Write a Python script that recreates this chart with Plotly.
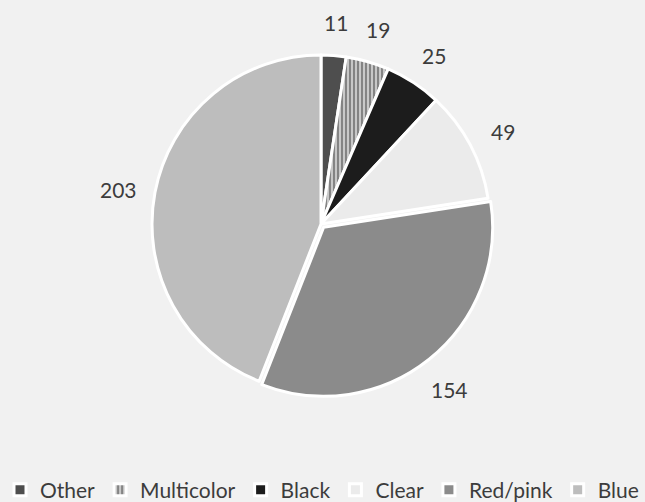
import math
import plotly.graph_objects as go

# ---- data ----
labels = ["Other", "Multicolor", "Black", "Clear", "Red/pink", "Blue"]
values = [11, 19, 25, 49, 154, 203]

# ---- style ----
colors = ["#4e4e4e", "#c4c4c4", "#1c1c1c", "#ebebeb", "#8b8b8b", "#bdbdbd"]
patterns = ["", "|", "", "", "", ""]
pulls = [0, 0, 0, 0, 0.025, 0]
BG = "#f1f1f1"
FONT = "Lato, 'Open Sans', 'Liberation Sans', sans-serif"
TXT = "#3c3c3c"

W, H = 645, 502
CX, CY, R = 321, 224, 169
LABEL_R = 1.22
LABEL_DY = 4
HALF = R * (1 + max(pulls))

fig = go.Figure()
fig.add_trace(go.Pie(
    labels=labels,
    values=values,
    sort=False,
    direction="clockwise",
    rotation=0,
    pull=pulls,
    textinfo="none",
    hoverinfo="label+value",
    marker=dict(
        colors=colors,
        line=dict(color="white", width=3),
        pattern=dict(shape=patterns, fgcolor="#7c7c7c", bgcolor="#c8c8c8",
                     size=4, solidity=0.45),
    ),
    domain=dict(x=[(CX - HALF) / W, (CX + HALF) / W],
                y=[1 - (CY + HALF) / H, 1 - (CY - HALF) / H]),
))

# value labels placed outside each slice at its mid angle (derived from data)
total = sum(values)
cum = 0
annotations = []
for v in values:
    mid = (cum + v / 2) / total * 2 * math.pi
    cum += v
    px = CX + LABEL_R * R * math.sin(mid)
    py = CY + LABEL_DY - LABEL_R * R * math.cos(mid)
    annotations.append(dict(
        x=px / W, y=1 - py / H, xref="paper", yref="paper",
        text=str(v), showarrow=False, xanchor="center", yanchor="middle",
        font=dict(family=FONT, size=21, color=TXT),
    ))

fig.update_layout(
    width=W, height=H,
    margin=dict(l=0, r=0, t=0, b=0, autoexpand=False),
    paper_bgcolor=BG, plot_bgcolor=BG,
    annotations=annotations,
    showlegend=True,
    legend=dict(
        orientation="h", x=0, xanchor="left", y=1 - 490 / H, yanchor="middle",
        font=dict(family=FONT, size=21, color=TXT),
        bgcolor="rgba(0,0,0,0)", itemwidth=30, traceorder="normal",
    ),
)

fig.write_html("out.html", config={"displayModeBar": False},
               post_script="document.body.style.margin='0px';")
